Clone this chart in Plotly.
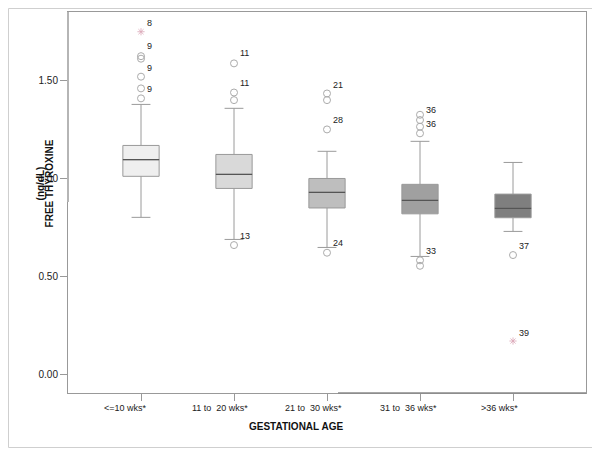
import plotly.graph_objects as go

categories = ["<=10 wks*", "11 to\u00a0\u00a020 wks*", "21 to\u00a0\u00a030 wks*", "31 to\u00a0\u00a036 wks*", ">36 wks*"]
q1 = [1.012, 0.950, 0.850, 0.820, 0.800]
median = [1.097, 1.022, 0.930, 0.889, 0.848]
q3 = [1.170, 1.124, 1.001, 0.971, 0.921]
lower_whisker = [0.802, 0.689, 0.648, 0.602, 0.730]
upper_whisker = [1.380, 1.360, 1.140, 1.191, 1.083]
box_colors = ["#efefef", "#d9d9d9", "#bebebe", "#a0a0a0", "#7f7f7f"]

outlier_group = [0, 0, 0, 0, 0, 1, 1, 1, 1, 2, 2, 2, 2, 3, 3, 3, 3, 3, 3, 4]
outlier_value = [1.411, 1.462, 1.522, 1.614, 1.627, 1.402, 1.441, 1.590, 0.660,
                 1.436, 1.402, 1.252, 0.621, 1.327, 1.300, 1.266, 1.232, 0.582, 0.554, 0.609]
extreme_group = [0, 4]
extreme_value = [1.752, 0.169]

label_group = [0, 0, 0, 0, 1, 1, 1, 2, 2, 2, 3, 3, 3, 4, 4]
label_text = ["8", "9", "9", "9", "11", "11", "13", "21", "28", "24", "36", "36", "33", "37", "39"]
label_y = [1.796, 1.679, 1.568, 1.459, 1.643, 1.489, 0.706, 1.479, 1.300, 0.670,
           1.351, 1.279, 0.629, 0.655, 0.210]

yticks = [0.0, 0.5, 1.0, 1.5]

FONT = "Liberation Sans, Arial, sans-serif"
BOX_W = 0.39

fig = go.Figure()
for i in range(len(categories)):
    fig.add_trace(go.Box(
        x=[i], q1=[q1[i]], median=[median[i]], q3=[q3[i]],
        lowerfence=[lower_whisker[i]], upperfence=[upper_whisker[i]],
        width=BOX_W, whiskerwidth=0.52,
        fillcolor=box_colors[i], line=dict(color="#9a9a9a", width=1),
        boxpoints=False, showlegend=False, hoverinfo="skip",
    ))
    fig.add_trace(go.Scatter(
        x=[i - BOX_W / 2, i + BOX_W / 2], y=[median[i], median[i]],
        mode="lines", line=dict(color="#555555", width=1.2),
        showlegend=False, hoverinfo="skip",
    ))

fig.add_trace(go.Scatter(
    x=outlier_group, y=outlier_value, mode="markers",
    marker=dict(symbol="circle-open", size=7, color="#ababab", line=dict(width=1)),
    showlegend=False, hoverinfo="skip",
))
fig.add_trace(go.Scatter(
    x=extreme_group, y=extreme_value, mode="markers",
    marker=dict(symbol="asterisk-open", size=6, color="#dba6b6", line=dict(width=0.8, color="#dba6b6")),
    showlegend=False, hoverinfo="skip",
))

annotations = []
for g, t, y in zip(label_group, label_text, label_y):
    annotations.append(dict(x=g, y=y, text=t, showarrow=False, xanchor="left",
                            yanchor="middle", xshift=4,
                            font=dict(family=FONT, size=9, color="#222222")))
shifts = [-16, -14, -14, -12, -14]
for i, c in enumerate(categories):
    annotations.append(dict(x=i, y=0, yref="paper", text=c, showarrow=False,
                            xanchor="center", yanchor="middle", xshift=shifts[i], yshift=-15,
                            font=dict(family=FONT, size=9, color="#222222")))
annotations.append(dict(x=0.44, xref="paper", y=0, yref="paper", text="<b>GESTATIONAL AGE</b>",
                        showarrow=False, xanchor="center", yanchor="middle", yshift=-33,
                        font=dict(family=FONT, size=10, color="#111111")))
annotations.append(dict(x=0, xref="paper", y=0.55, yref="paper", text="<b>(ng/dL)</b>",
                        showarrow=False, textangle=-90, xanchor="center", yanchor="middle", xshift=-28,
                        font=dict(family=FONT, size=10, color="#111111")))
annotations.append(dict(x=0, xref="paper", y=0.55, yref="paper", text="<b>FREE THYROXINE</b>",
                        showarrow=False, textangle=-90, xanchor="center", yanchor="middle", xshift=-19,
                        font=dict(family=FONT, size=10, color="#111111")))

# page-pixel helpers (plot area spans x 68..586, y 12..393 on the page)
W_PLOT = 518.0
H_PLOT = 381.0
def px(x):
    return (x - 68) / W_PLOT
def py(y):
    return (393 - y) / H_PLOT

shapes = [
    dict(type="rect", xref="paper", yref="paper",
         x0=px(8.5), x1=px(597.5), y0=py(447.5), y1=py(8.5),
         line=dict(color="#cfcfcf", width=1), layer="below"),
    dict(type="line", xref="paper", yref="paper", x0=0, x1=0,
         y0=py(202), y1=1, line=dict(color="#b5b5b5", width=2)),
    dict(type="line", xref="paper", yref="paper", x0=px(338), x1=1,
         y0=0, y1=0, line=dict(color="#8a8a8a", width=1.5)),
]

# the page body adds an 8px margin, so the figure is 592x442 placed at (8, 8)
fig.update_layout(
    width=592, height=442,
    margin=dict(l=60, r=14, t=4, b=57),
    paper_bgcolor="white", plot_bgcolor="white",
    font=dict(family=FONT, size=9, color="#222222"),
    showlegend=False,
    annotations=annotations,
    shapes=shapes,
    xaxis=dict(range=[-0.785, 4.785], tickvals=list(range(len(categories))),
               ticktext=[""] * len(categories), ticks="outside", ticklen=7,
               tickcolor="#999999", showgrid=False, zeroline=False,
               showline=True, linecolor="#999999", linewidth=1, mirror=True),
    yaxis=dict(range=[-0.097, 1.853], tickvals=yticks, tickformat=".2f",
               ticks="outside", ticklen=7, tickcolor="#999999",
               tickfont=dict(family=FONT, size=10, color="#222222"),
               showgrid=False, zeroline=False,
               showline=True, linecolor="#999999", linewidth=1, mirror=True),
)

fig.write_html("out.html")
